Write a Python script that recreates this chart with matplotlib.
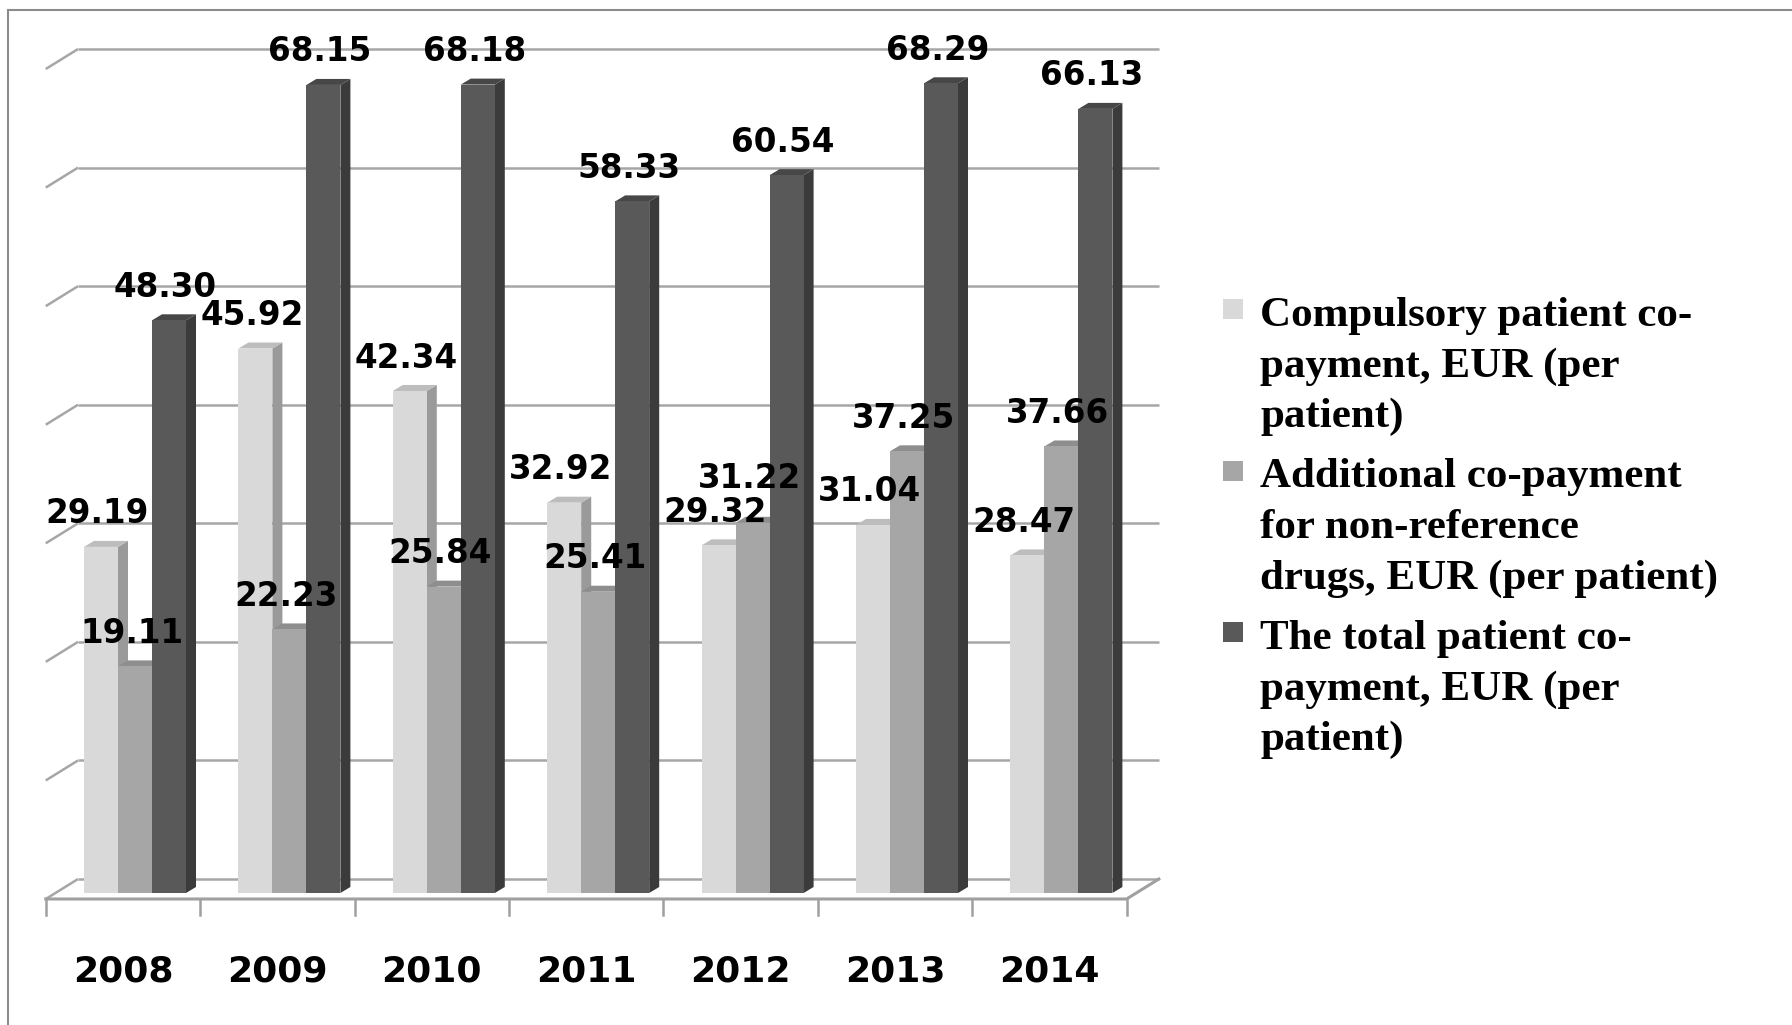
"""
Patient co-payment per patient, 2008-2014 (pseudo 3D column chart).
"""
import matplotlib.pyplot as plt
from matplotlib.patches import Polygon, Rectangle
from matplotlib.lines import Line2D

years = ['2008', '2009', '2010', '2011', '2012', '2013', '2014']
compulsory = [29.19, 45.92, 42.34, 32.92, 29.32, 31.04, 28.47]
additional = [19.11, 22.23, 25.84, 25.41, 31.22, 37.25, 37.66]
total = [48.30, 68.15, 68.18, 58.33, 60.54, 68.29, 66.13]
series_names = ['Compulsory patient co-\npayment, EUR (per\npatient)',
                'Additional co-payment\nfor non-reference\ndrugs, EUR (per patient)',
                'The total patient co-\npayment, EUR (per\npatient)']
gridlines = [0, 10, 20, 30, 40, 50, 60, 70]

# face colours: front, side, top
colors = [('#d9d9d9', '#9a9a9a', '#bdbdbd'),
          ('#a6a6a6', '#7f7f7f', '#8e8e8e'),
          ('#595959', '#3b3b3b', '#474747')]

W, H = 1792, 1025
PX_X = 154.4   # pixels per category
PX_Y = 11.857  # pixels per EUR

fig = plt.figure(figsize=(W / 100, H / 100), dpi=100)
ax = fig.add_axes([0, 0, 1, 1])
ax.set_xlim(-135 / PX_X, (W - 135) / PX_X)
ax.set_ylim((893 - H) / PX_Y, 893 / PX_Y)
ax.set_axis_off()

# geometry of the box, in data units
bw = 34 / PX_X
ddx, ddy = 10 / PX_X, 6 / PX_Y
front_left = -0.578
back_left = front_left + 32.3 / PX_X
n = len(years)
front_right = front_left + n
back_right = back_left + n
back_dy = 14 / PX_Y
front_dy = 6 / PX_Y

grid_kw = dict(color='#a6a6a6', lw=1.8, zorder=1, solid_capstyle='butt')
for g in gridlines:
    ax.plot([back_left, back_right], [g + back_dy] * 2, **grid_kw)
    ax.plot([front_left, back_left], [g - front_dy, g + back_dy], **grid_kw)

# floor
ax.plot([front_left, front_right, back_right], [-front_dy, -front_dy, back_dy],
        color='#a0a0a0', lw=2.2, zorder=1)
for k in range(n + 1):
    ax.plot([front_left + k] * 2, [-front_dy, -22 / PX_Y], color='#a0a0a0', lw=1.8, zorder=1)

for i, year in enumerate(years):
    ax.text(front_left + i + 0.5, -6.58, year, ha='center', va='center',
            fontsize=26, fontweight='bold')

# bars
nudge = {(4, 1): 1.0}
for j, vals in enumerate([compulsory, additional, total]):
    front, side, top = colors[j]
    for i, v in enumerate(vals):
        x0 = i + (j - 1.5) * bw
        x1 = x0 + bw
        z = 2 + j
        ax.add_patch(Polygon([(x1, 0), (x1 + ddx, ddy), (x1 + ddx, v + ddy), (x1, v)],
                             closed=True, fc=side, ec='none', zorder=z))
        ax.add_patch(Polygon([(x0, v), (x1, v), (x1 + ddx, v + ddy), (x0 + ddx, v + ddy)],
                             closed=True, fc=top, ec='none', zorder=z))
        ax.add_patch(Rectangle((x0, 0), bw, v, fc=front, ec='none', zorder=z))
        ax.text(x0 + bw / 2 - 0.023, v + 2.78 + nudge.get((i, j), 0), f'{v:.2f}',
                ha='center', va='center', fontsize=23.5, fontweight='bold', zorder=10)

# legend
item_y = [316, 477.5, 639]
for j, name in enumerate(series_names):
    fig.add_artist(Rectangle((1223 / W, 1 - (item_y[j] + 3) / H), 20 / W, 20 / H,
                             transform=fig.transFigure, fc=colors[j][0], ec='none'))
    for k, line in enumerate(name.split('\n')):
        fig.text(1260 / W, 1 - (item_y[j] + k * 50.5) / H, line, ha='left', va='center',
                 fontsize=31, fontweight='bold', family='Liberation Serif')

# outer frame (top and left edges only)
fig.add_artist(Line2D([7.5 / W, 1], [1 - 10 / H] * 2, transform=fig.transFigure,
                      color='#8c8c8c', lw=1.5))
fig.add_artist(Line2D([7.5 / W] * 2, [0, 1 - 10 / H], transform=fig.transFigure,
                      color='#8c8c8c', lw=1.5))

fig.savefig('out.png', dpi=100)
